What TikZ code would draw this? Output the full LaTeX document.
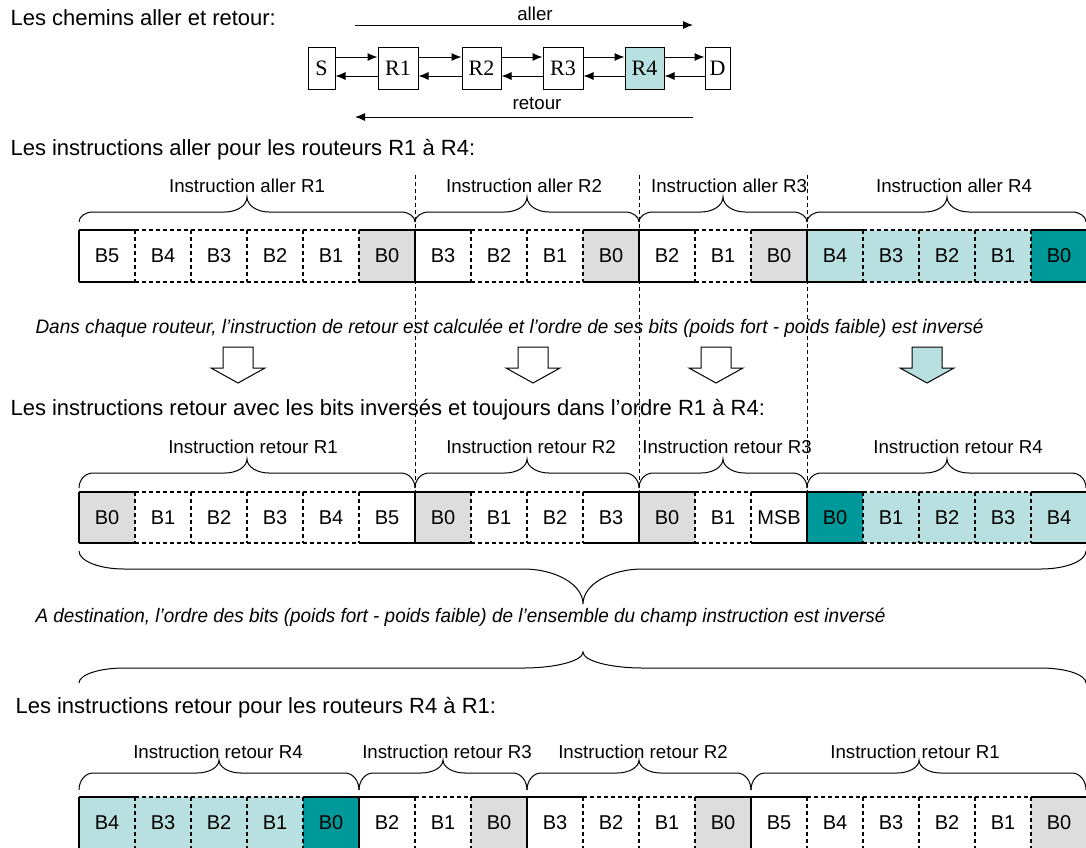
\documentclass[tikz,border=0pt]{standalone}
\usepackage{fontspec}
\usepackage{graphicx}
\setmainfont{Liberation Sans}
\newfontfamily\boxfont{Liberation Serif}
\usetikzlibrary{arrows.meta}

\definecolor{lt}{RGB}{185,224,224}
\definecolor{dk}{RGB}{0,153,153}
\definecolor{gr}{RGB}{221,221,221}

% curly brace: x1, x2, tip x, base y, flat offset, tip offset, end radius, tip radius
\newcommand\curly[8]{%
 (#1,#4) .. controls (#1,{#4-0.552*(#5)}) and ({#1+0.448*(#7)},{#4-(#5)}) .. ({#1+#7},{#4-(#5)})
 -- ({#3-#8},{#4-(#5)}) .. controls ({#3-0.448*(#8)},{#4-(#5)}) and (#3,{#4-(#6)+0.552*((#6)-(#5))}) .. (#3,{#4-(#6)})
 .. controls (#3,{#4-(#6)+0.552*((#6)-(#5))}) and ({#3+0.448*(#8)},{#4-(#5)}) .. ({#3+#8},{#4-(#5)})
 -- ({#2-#7},{#4-(#5)}) .. controls ({#2-0.448*(#7)},{#4-(#5)}) and (#2,{#4-0.552*(#5)}) .. (#2,#4)}

\begin{document}
\begin{tikzpicture}[x=1pt,y=-1pt,
  line width=1.1pt,
  dsh/.style={dash pattern=on 4pt off 3pt},
  vline/.style={line width=0.9pt,dash pattern=on 4pt off 3pt},
  heading/.style={anchor=west,inner sep=0pt,font=\fontsize{22}{25}\selectfont},
  lbl/.style={inner sep=0pt,font=\fontsize{18.7}{21}\selectfont},
  note/.style={anchor=west,inner sep=0pt,font=\fontsize{19.5}{22}\selectfont\itshape},
  cell/.style={anchor=north west,inner sep=0pt,outer sep=0pt,draw=none,
    minimum width=56pt,minimum height=52pt,font=\fontsize{20}{22}\selectfont},
  hop/.style={draw,line width=1pt,inner sep=0pt,minimum height=42pt,
    font=\boxfont\fontsize{22}{24}\selectfont},
  link/.style={line width=1pt,-{Latex[length=10pt,width=8pt]}},
  brc/.style={line width=1pt},
  blockarrow/.style={line width=1pt,draw=black},
]
\useasboundingbox[fill=white] (0,0) rectangle (1086,847);

% ---------- path S -> D ----------
\node[heading] (h1) at (10,18) {Les chemins aller et retour:};

\node[hop,minimum width=27pt] (S)  at (321.5,68) {S};
\node[hop,minimum width=40pt] (R1) at (398,68) {R1};
\node[hop,minimum width=39pt] (R2) at (481.5,68) {R2};
\node[hop,minimum width=40pt] (R3) at (563,68) {R3};
\node[hop,minimum width=39pt,fill=lt] (R4) at (644.5,68) {R4};
\node[hop,minimum width=25pt] (D)  at (717.5,68) {D};

\foreach \a/\b in {S/R1,R1/R2,R2/R3,R3/R4,R4/D}{
  \draw[link] ([yshift=11pt]\a.east) -- ([yshift=11pt]\b.west);
  \draw[link] ([yshift=-8pt]\b.west) -- ([yshift=-8pt]\a.east);
}

\coordinate (al0) at (355,25);
\coordinate (al1) at (693,25);
\draw[link] (al0) -- (al1);
\node[lbl] (allerlbl) at (535,14) {aller};
\coordinate (re0) at (693,117);
\coordinate (re1) at (355,117);
\draw[link] (re0) -- (re1);
\node[lbl] (retourlbl) at (537,104) {retour};

% ---------- guide lines between router fields ----------
\foreach \x [count=\k] in {415,639,807}{
  \coordinate (vt\k) at (\x,175);
  \coordinate (vb\k) at (\x,492);
  \draw[vline] (vt\k) -- (vb\k);
}

% ---------- forward instructions ----------
\node[heading] (h2) at (10,150) {Les instructions aller pour les routeurs R1 à R4:};

\foreach \t/\f/\tb/\lf [count=\i from 0] in {
  B5/white/solid/solid, B4/white/dsh/dsh, B3/white/dsh/dsh, B2/white/dsh/dsh, B1/white/dsh/dsh, B0/gr/solid/dsh,
  B3/white/solid/solid, B2/white/dsh/dsh, B1/white/dsh/dsh, B0/gr/solid/dsh,
  B2/white/solid/solid, B1/white/dsh/dsh, B0/gr/solid/dsh,
  B4/lt/solid/solid, B3/lt/dsh/dsh, B2/lt/dsh/dsh, B1/lt/dsh/dsh, B0/dk/solid/dsh}{
  \node[cell,fill=\f] (a\i) at ({79+56*\i},230) {\t};
  \draw[\tb] (a\i.north west) -- (a\i.north east) (a\i.south west) -- (a\i.south east);
  \draw[\lf] (a\i.north west) -- (a\i.south west);
}
\draw (a17.north east) -- (a17.south east);

\foreach \xa/\xb/\xm/\xt/\name in {79/415/247/247/Instruction aller R1, 415/639/527/524/Instruction aller R2,
  639/807/723/729/Instruction aller R3, 807/1086/947/954/Instruction aller R4}{
  \draw[brc] \curly{\xa}{\xb}{\xm}{222}{10}{25}{14}{22};
  \node[lbl] at (\xt,186) {\name};
}

% ---------- per-router inversion ----------
\node[note] (n1) at (35,328) {\resizebox{948pt}{\height}{Dans chaque routeur, l’instruction de retour est calculée et l’ordre de ses bits (poids fort - poids faible) est inversé}};

\foreach \x/\f in {238/white,533/white,716/white,927/lt}{
  \draw[blockarrow,fill=\f] (\x-15,347) -- (\x+15,347) -- (\x+15,368) -- (\x+27,368)
    -- (\x,383) -- (\x-27,368) -- (\x-15,368) -- cycle;
}

% ---------- return instructions, bits inverted ----------
\node[heading] (h3) at (10,410) {Les instructions retour avec les bits inversés et toujours dans l’ordre R1 à R4:};

\foreach \t/\f/\tb/\lf [count=\i from 0] in {
  B0/gr/solid/solid, B1/white/dsh/dsh, B2/white/dsh/dsh, B3/white/dsh/dsh, B4/white/dsh/dsh, B5/white/solid/dsh,
  B0/gr/solid/solid, B1/white/dsh/dsh, B2/white/dsh/dsh, B3/white/solid/dsh,
  B0/gr/solid/solid, B1/white/dsh/dsh, MSB/white/solid/dsh,
  B0/dk/solid/solid, B1/lt/dsh/dsh, B2/lt/dsh/dsh, B3/lt/dsh/dsh, B4/lt/solid/dsh}{
  \node[cell,fill=\f,minimum height=51pt] (b\i) at ({79+56*\i},492) {\t};
  \draw[\tb] (b\i.north west) -- (b\i.north east) (b\i.south west) -- (b\i.south east);
  \draw[\lf] (b\i.north west) -- (b\i.south west);
}
\draw (b17.north east) -- (b17.south east);

\foreach \xa/\xb/\xm/\xt/\name in {79/415/247/253/Instruction retour R1, 415/639/527/531/Instruction retour R2,
  639/807/723/727/Instruction retour R3, 807/1086/947/958/Instruction retour R4}{
  \draw[brc] \curly{\xa}{\xb}{\xm}{488}{15}{29}{14}{22};
  \node[lbl] at (\xt,447) {\name};
}

% ---------- whole field reversed at destination ----------
\draw[brc] \curly{79}{1086}{583}{551}{-18}{-53}{45}{60};
\node[note] (n2) at (35,617) {\resizebox{850pt}{\height}{A destination, l’ordre des bits (poids fort - poids faible) de l’ensemble du champ instruction est inversé}};
\draw[brc] \curly{79}{1086}{583}{683}{15}{31}{45}{60};

% ---------- return instructions R4 to R1 ----------
\node[heading] (h4) at (15,708) {Les instructions retour pour les routeurs R4 à R1:};

\foreach \t/\f/\tb/\lf [count=\i from 0] in {
  B4/lt/solid/solid, B3/lt/dsh/dsh, B2/lt/dsh/dsh, B1/lt/dsh/dsh, B0/dk/solid/dsh,
  B2/white/solid/solid, B1/white/dsh/dsh, B0/gr/solid/dsh,
  B3/white/solid/solid, B2/white/dsh/dsh, B1/white/dsh/dsh, B0/gr/solid/dsh,
  B5/white/solid/solid, B4/white/dsh/dsh, B3/white/dsh/dsh, B2/white/dsh/dsh, B1/white/dsh/dsh, B0/gr/solid/dsh}{
  \node[cell,fill=\f] (c\i) at ({79+56*\i},797) {\t};
  \draw[\tb] (c\i.north west) -- (c\i.north east) (c\i.south west) -- (c\i.south east);
  \draw[\lf] (c\i.north west) -- (c\i.south west);
}
\draw (c17.north east) -- (c17.south east);

\foreach \xa/\xb/\xm/\xt/\name in {79/359/219/218/Instruction retour R4, 359/527/443/447/Instruction retour R3,
  527/751/639/643/Instruction retour R2, 751/1086/919/915/Instruction retour R1}{
  \draw[brc] \curly{\xa}{\xb}{\xm}{790}{17}{30}{14}{22};
  \node[lbl] at (\xt,752) {\name};
}
\end{tikzpicture}
\end{document}
